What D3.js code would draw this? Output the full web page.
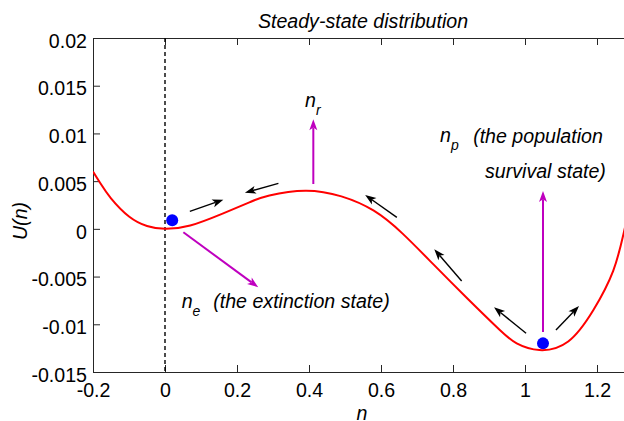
<!DOCTYPE html>
<html>
<head>
<meta charset="utf-8">
<script src="https://cdn.jsdelivr.net/npm/d3@7"></script>
<style>
  body { margin: 0; background: #fff; }
  svg { display: block; font-family: "Liberation Sans", Arial, Helvetica, sans-serif; }
  .axis path, .axis line { stroke: #262626; }
  .axis text { fill: #000; font-size: 19.6px; }
  .lbl { font-style: italic; font-size: 19.6px; fill: #000; }
</style>
</head>
<body>
<script>
// potential curve
var nVals = [-0.2, -0.18, -0.15, -0.1, -0.05, 0, 0.07, 0.16, 0.236, 0.29, 0.39, 0.49, 0.58, 0.66, 0.745, 0.84, 0.93, 0.977, 1.04, 1.12, 1.19, 1.245, 1.275, 1.3];
var uVals = [0.0060, 0.0048, 0.0032, 0.0013, 0.0003, 0, 0.00035, 0.0016, 0.0028, 0.0035, 0.0040, 0.0034, 0.0019, -0.0005, -0.0037, -0.0073, -0.0106, -0.0120, -0.0127, -0.0118, -0.0085, -0.0044, -0.0003, 0.0037];

var xTicks = [-0.2, 0, 0.2, 0.4, 0.6, 0.8, 1, 1.2];
var yTicks = [-0.015, -0.01, -0.005, 0, 0.005, 0.01, 0.015, 0.02];

// states (blue dots)
var dotN = [0.02, 1.05];
var dotU = [0.0009, -0.012];

// black flow arrows: [n1, u1, n2, u2]
var flowArrows = [
	[0.069, 0.00183, 0.162, 0.00305],
	[0.315, 0.00477, 0.222, 0.00379],
	[0.644, 0.00121, 0.556, 0.00355],
	[0.824, -0.00546, 0.748, -0.00214],
	[1.003, -0.01094, 0.914, -0.00822],
	[1.086, -0.0106, 1.15, -0.00808]
];
// magenta pointer arrows
var stateArrows = [
	[0.412, 0.0047, 0.412, 0.01148],
	[1.05, -0.0108, 1.05, 0.00397],
	[0.051, -0.00036, 0.259, -0.00612]
];

(function() {
	var W = 624, H = 421,
		mL = 93, mT = 38, mR = 633, mB = 372;

	var svg = d3.select("body").append("svg")
		.attr("width", W)
		.attr("height", H);

	var x = d3.scaleLinear().domain([-0.2, 1.3]).range([mL, mR]);
	var y = d3.scaleLinear().domain([-0.015, 0.02]).range([mB, mT]);

	function fmt(d) {
		return String(+d.toFixed(3));
	}

	svg.append("defs").append("clipPath").attr("id", "clip")
		.append("rect")
		.attr("x", mL).attr("y", mT)
		.attr("width", mR - mL).attr("height", mB - mT);

	// axes, ticks inside
	svg.append("g").attr("class", "axis")
		.attr("transform", "translate(0," + mB + ")")
		.call(d3.axisBottom(x).tickValues(xTicks).tickFormat(fmt).tickSizeInner(-7).tickSizeOuter(0).tickPadding(11.5));
	svg.append("g").attr("class", "axis")
		.attr("transform", "translate(0," + mT + ")")
		.call(d3.axisTop(x).tickValues(xTicks).tickFormat("").tickSizeInner(-7).tickSizeOuter(0));
	var gy = svg.append("g").attr("class", "axis")
		.attr("transform", "translate(" + mL + ",0)")
		.call(d3.axisLeft(y).tickValues(yTicks).tickFormat(fmt).tickSizeInner(-7).tickSizeOuter(0).tickPadding(6));
	gy.selectAll("text").attr("dy", "0.47em");
	svg.selectAll(".axis").attr("font-family", null).attr("font-size", null);

	// dashed line at n = 0
	svg.append("line")
		.attr("x1", x(0)).attr("x2", x(0))
		.attr("y1", mT).attr("y2", mB)
		.attr("stroke", "#000")
		.attr("stroke-width", 1.4)
		.attr("stroke-dasharray", "4,3");

	// curve
	var pts = nVals.map(function(n, i) {return [n, uVals[i]];});
	svg.append("path")
		.datum(pts)
		.attr("clip-path", "url(#clip)")
		.attr("fill", "none")
		.attr("stroke", "#ff0000")
		.attr("stroke-width", 2)
		.attr("d", d3.line()
			.x(function(d) {return x(d[0]);})
			.y(function(d) {return y(d[1]);})
			.curve(d3.curveNatural));

	function arrow(a, color, width, headLen, headW) {
		var x1 = x(a[0]), y1 = y(a[1]), x2 = x(a[2]), y2 = y(a[3]);
		var ang = Math.atan2(y2 - y1, x2 - x1);
		var c = Math.cos(ang), s = Math.sin(ang);
		var bx = x2 - headLen * c, by = y2 - headLen * s;
		var nx = x2 - headLen * 0.75 * c, ny = y2 - headLen * 0.75 * s;
		svg.append("line")
			.attr("x1", x1).attr("y1", y1)
			.attr("x2", nx).attr("y2", ny)
			.attr("stroke", color)
			.attr("stroke-width", width);
		svg.append("path")
			.attr("d", "M" + x2 + "," + y2 +
				"L" + (bx - headW * s) + "," + (by + headW * c) +
				"L" + nx + "," + ny +
				"L" + (bx + headW * s) + "," + (by - headW * c) + "Z")
			.attr("fill", color);
	}

	flowArrows.forEach(function(a) {arrow(a, "#000", 1.4, 11, 4);});
	stateArrows.forEach(function(a) {arrow(a, "#bf00bf", 2, 11, 4);});

	svg.selectAll("circle.state")
		.data(dotN)
		.enter().append("circle")
		.attr("class", "state")
		.attr("cx", function(d) {return x(d);})
		.attr("cy", function(d, i) {return y(dotU[i]);})
		.attr("r", 6)
		.attr("fill", "#0000ff");

	// labels
	svg.append("text").attr("class", "lbl")
		.attr("x", 363).attr("y", 28)
		.attr("text-anchor", "middle")
		.text("Steady-state distribution");
	svg.append("text").attr("class", "lbl")
		.attr("x", 362).attr("y", 420)
		.attr("text-anchor", "middle")
		.text("n");
	svg.append("text").attr("class", "lbl")
		.attr("transform", "translate(27,221) rotate(-90)")
		.attr("text-anchor", "middle")
		.text("U(n)");

	function subLabel(n, u, main, sub) {
		var t = svg.append("text").attr("class", "lbl")
			.attr("x", x(n)).attr("y", y(u));
		t.append("tspan").text(main);
		t.append("tspan").attr("font-size", "14px").attr("dy", 8.5).text(sub);
	}
	subLabel(0.389, 0.0128, "n", "r");
	subLabel(0.764, 0.00913, "n", "p");
	subLabel(0.0464, -0.00829, "n", "e");

	svg.append("text").attr("class", "lbl")
		.attr("x", x(0.856)).attr("y", y(0.00895))
		.text("(the population");
	svg.append("text").attr("class", "lbl")
		.attr("x", x(0.889)).attr("y", y(0.0053))
		.text("survival state)");
	svg.append("text").attr("class", "lbl")
		.attr("x", x(0.134)).attr("y", y(-0.00829))
		.text("(the extinction state)");
}());
</script>
</body>
</html>
